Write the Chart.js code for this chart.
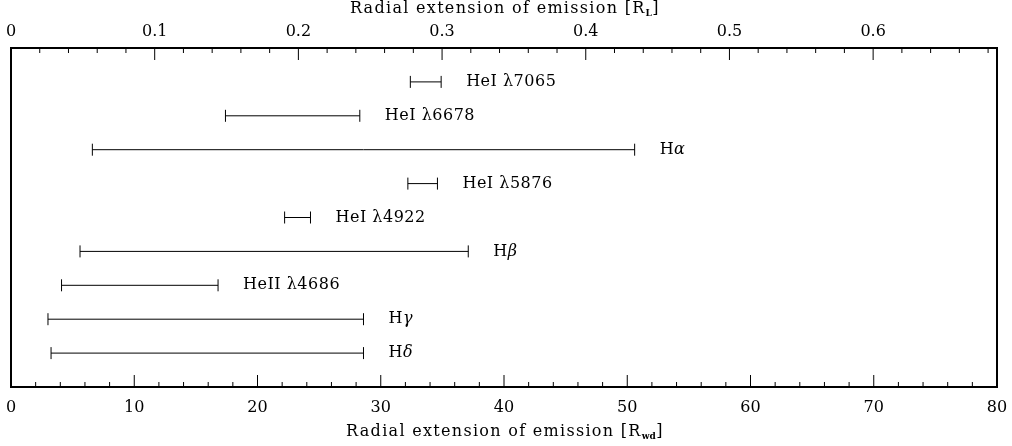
<!DOCTYPE html>
<html>
<head>
<meta charset="utf-8">
<script src="https://cdn.jsdelivr.net/npm/chart.js@4.4.1/dist/chart.umd.min.js"></script>
<style>
  html, body { margin: 0; padding: 0; background: #fff; }
  #wrap { width: 1012px; height: 446px; }
</style>
</head>
<body>
<div id="wrap"><canvas id="chart"></canvas></div>
<script>
/* ── DATA ─────────────────────────────────────────────────── */
const lineNames = ['HeI λ7065', 'HeI λ6678', 'Hα', 'HeI λ5876', 'HeI λ4922', 'Hβ', 'HeII λ4686', 'Hγ', 'Hδ'];
const rowIndex  = [9, 8, 7, 6, 5, 4, 3, 2, 1];
const innerEdge = [32.4, 17.4, 6.6, 32.2, 22.2, 5.6, 4.1, 3.0, 3.25];   // R_wd
const outerEdge = [34.9, 28.3, 50.6, 34.6, 24.3, 37.1, 16.8, 28.6, 28.6]; // R_wd
const xMax = 80;          // R_wd
const xTopMax = 0.6862;   // same range in R_L

const FONT = '"DejaVu Serif", "Liberation Serif", serif';
const INK = '#000';

/* ── AXIS TICKS + TITLES + LINE LABELS ───────────────────── */
function drawScaleTicks(ctx, scale, edgeY, dir, isMajor) {
  scale.ticks.forEach(t => {
    const px = scale.getPixelForValue(t.value);
    const len = isMajor(t.value) ? 12 : 5;
    ctx.beginPath();
    ctx.moveTo(px, edgeY);
    ctx.lineTo(px, edgeY + dir * len);
    ctx.stroke();
  });
}

function drawTitle(ctx, cx, cy, sub) {
  const base = 'Radial extension of emission [R';
  ctx.letterSpacing = '1.3px';
  ctx.font = '16px ' + FONT;
  const w1 = ctx.measureText(base).width;
  ctx.letterSpacing = '0px';
  ctx.font = 'bold 9px ' + FONT;
  const w2 = ctx.measureText(sub).width;
  ctx.font = '16px ' + FONT;
  const w3 = ctx.measureText(']').width;
  let x = cx - (w1 + w2 + w3) / 2;
  ctx.textBaseline = 'middle';
  ctx.textAlign = 'left';
  ctx.letterSpacing = '1.3px';
  ctx.fillText(base, x, cy);
  ctx.letterSpacing = '0px';
  x += w1;
  ctx.font = 'bold 9px ' + FONT;
  ctx.fillText(sub, x, cy + 5);
  x += w2;
  ctx.font = '16px ' + FONT;
  ctx.fillText(']', x + 0.5, cy);
}

const decorPlugin = {
  id: 'decor',
  afterDraw(chart) {
    const { ctx, chartArea: a } = chart;
    const xs = chart.scales.x, xt = chart.scales.x2, ys = chart.scales.y;
    ctx.save();
    ctx.strokeStyle = INK;
    ctx.fillStyle = INK;
    ctx.lineWidth = 1;
    drawScaleTicks(ctx, xs, a.bottom, -1, v => Math.round(v / 2) % 5 === 0);
    drawScaleTicks(ctx, xt, a.top, 1, v => Math.round(v / 0.02) % 5 === 0);

    const cx = (a.left + a.right) / 2;
    drawTitle(ctx, cx, 9, 'L');
    drawTitle(ctx, cx, 432, 'wd');

    lineNames.forEach((name, i) => {
      const x = xs.getPixelForValue(outerEdge[i]) + 25;
      const y = ys.getPixelForValue(rowIndex[i]);
      ctx.textBaseline = 'middle';
      ctx.textAlign = 'left';
      ctx.letterSpacing = '0.5px';
      const m = name.match(/^H([αβγδ])$/);
      if (m) {
        ctx.font = '16px ' + FONT;
        ctx.fillText('H', x, y);
        const w = ctx.measureText('H').width;
        ctx.font = 'italic 16px ' + FONT;
        ctx.fillText(m[1], x + w, y);
      } else {
        ctx.font = '16px ' + FONT;
        ctx.fillText(name, x, y);
      }
    });
    ctx.restore();
  }
};

/* ── DATASETS ─────────────────────────────────────────────── */
const datasets = lineNames.map((name, i) => ({
  label: name,
  data: [{ x: innerEdge[i], y: rowIndex[i] }, { x: outerEdge[i], y: rowIndex[i] }],
  showLine: true,
  borderColor: INK,
  borderWidth: 1,
  pointStyle: 'line',
  rotation: 90,
  pointRadius: 6,
  pointBorderWidth: 1,
  pointBorderColor: INK,
  pointHoverRadius: 6
}));

const frame = { display: true, color: INK, width: 2 };

new Chart(document.getElementById('chart'), {
  type: 'scatter',
  data: { datasets },
  plugins: [decorPlugin],
  options: {
    responsive: true,
    maintainAspectRatio: false,
    animation: false,
    layout: { padding: 0 },
    plugins: { legend: { display: false }, tooltip: { enabled: false } },
    scales: {
      x: {
        type: 'linear', position: 'bottom', min: 0, max: xMax,
        grid: { display: false, drawTicks: false },
        border: frame,
        ticks: {
          stepSize: 2, autoSkip: false, maxRotation: 0, padding: 11,
          color: INK, font: { family: FONT, size: 16 },
          callback: v => { const k = Math.round(v / 2); return k % 5 === 0 ? String(k * 2) : ''; }
        },
        afterFit: s => { s.height = 59; s.paddingLeft = 0; s.paddingRight = 0; }
      },
      x2: {
        type: 'linear', position: 'top', min: 0, max: xTopMax,
        grid: { display: false, drawTicks: false },
        border: frame,
        ticks: {
          stepSize: 0.02, autoSkip: false, maxRotation: 0, padding: 7, includeBounds: false,
          color: INK, font: { family: FONT, size: 16 },
          callback: v => { const k = Math.round(v / 0.02); return k % 5 === 0 ? (k === 0 ? '0' : (k / 50).toFixed(1)) : ''; }
        },
        afterFit: s => { s.height = 48; s.paddingLeft = 0; s.paddingRight = 0; }
      },
      y: {
        type: 'linear', position: 'left', min: 0, max: 10,
        grid: { display: false, drawTicks: false },
        border: frame,
        ticks: { display: false },
        afterFit: s => { s.width = 11; }
      },
      y2: {
        type: 'linear', position: 'right', min: 0, max: 10,
        grid: { display: false, drawTicks: false },
        border: frame,
        ticks: { display: false },
        afterFit: s => { s.width = 15; }
      }
    }
  }
});
</script>
</body>
</html>
